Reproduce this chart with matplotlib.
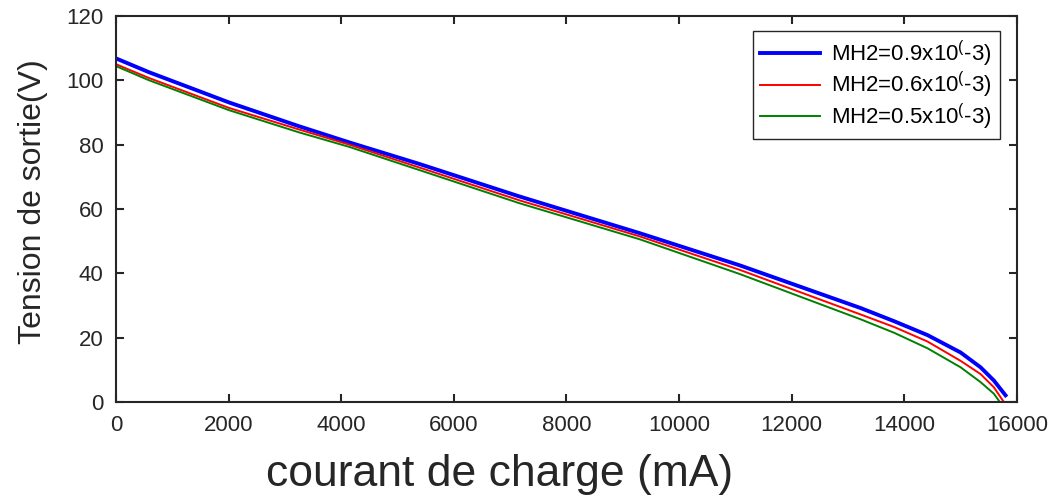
import numpy as np
import matplotlib.pyplot as plt

plt.rcParams['font.family'] = ['Liberation Sans', 'DejaVu Sans']
plt.rcParams['mathtext.default'] = 'regular'

# Values
i_blue = [0, 587, 2009, 3253, 4142, 5387, 7164, 9298, 11076, 13227, 13823,
          14413, 15000, 15354, 15590, 15797]
v_blue = [106.8, 102.5, 93.1, 85.7, 80.7, 74.0, 63.9, 52.5, 42.5, 29.2, 25.1,
          20.8, 15.4, 10.8, 6.7, 2.1]

i_red = [0, 587, 2009, 3253, 4142, 5387, 7164, 9298, 11076, 13227, 13823,
         14413, 15000, 15354, 15590, 15768]
v_red = [105.0, 100.7, 91.4, 84.7, 80.0, 72.9, 62.7, 51.5, 41.1, 27.2, 23.3,
         18.8, 12.8, 8.7, 4.6, 0.0]

i_green = [0, 587, 2009, 3253, 4142, 5387, 7164, 9298, 11076, 13227, 13823,
           14413, 15000, 15354, 15590, 15697]
v_green = [104.4, 100.0, 90.7, 83.8, 79.3, 72.1, 61.8, 50.6, 39.8, 25.7, 21.5,
           16.7, 10.8, 6.2, 2.6, 0.0]

labels = [r"MH2=0.9x10$^{(}$-3)", r"MH2=0.6x10$^{(}$-3)", r"MH2=0.5x10$^{(}$-3)"]

fig = plt.figure(figsize=(10.58, 4.97), dpi=100)
ax = fig.add_axes([0.1096, 0.191, 0.8516, 0.777])

ax.plot(i_blue, v_blue, color=(0, 0, 1), lw=2.8, label=labels[0])
ax.plot(i_red, v_red, color=(1, 0, 0), lw=1.4, label=labels[1])
ax.plot(i_green, v_green, color=(0, 0.5, 0), lw=1.4, label=labels[2])

ax.set_xlim(0, 16000)
ax.set_ylim(0, 120)
ax.set_xticks(np.arange(0, 16001, 2000))
ax.set_yticks(np.arange(0, 121, 20))
ax.tick_params(direction='in', length=6, width=1.5, top=True, right=True,
               labelsize=16, colors='#262626')
ax.tick_params(axis='x', pad=9)
ax.tick_params(axis='y', pad=9)
for s in ax.spines.values():
    s.set_linewidth(1.5)
    s.set_color('#262626')

ax.set_xlabel("courant de charge (mA)", fontsize=32, color='#262626')
ax.xaxis.set_label_coords(0.4256, -0.135)
ax.set_ylabel("Tension de sortie(V)", fontsize=23, color='#262626')
ax.yaxis.set_label_coords(-0.075, 0.518)

leg = ax.legend(loc='upper right', bbox_to_anchor=(0.981, 0.961), borderaxespad=0,
                fontsize=16, fancybox=False, edgecolor='#262626', framealpha=1,
                handlelength=2.7, handletextpad=0.5, borderpad=0.35,
                labelspacing=0.05)
leg.get_frame().set_linewidth(1.0)

fig.savefig("out.png", dpi=100)
